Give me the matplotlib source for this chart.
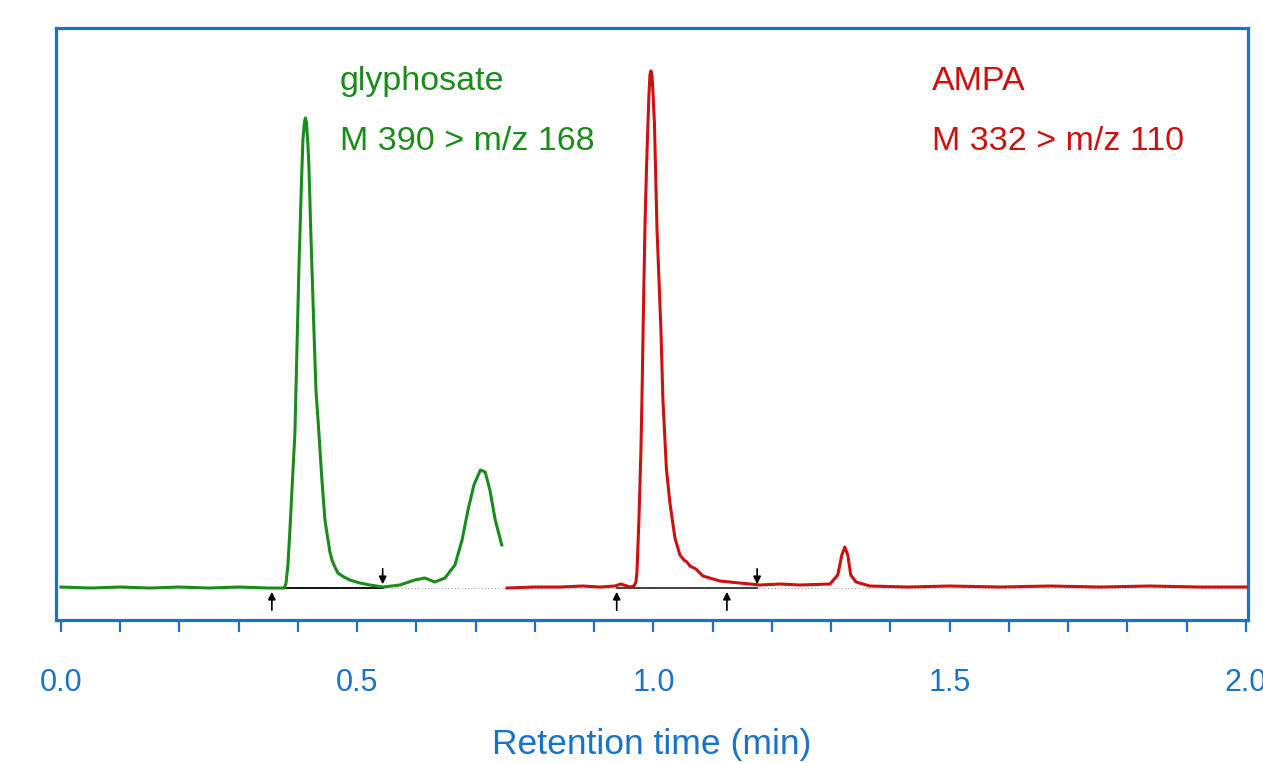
import matplotlib.pyplot as plt
from matplotlib.ticker import MultipleLocator

plt.rcParams['font.family'] = ['Liberation Sans', 'DejaVu Sans']

blue = '#1a73c9'
green = '#1b8c1b'
red = '#cc1111'

# glyphosate trace (time in min, intensity)
glyph_t = [0.0, 0.05, 0.1, 0.15, 0.2, 0.25, 0.3, 0.35, 0.37, 0.3764, 0.3797, 0.3831,
           0.3865, 0.3899, 0.3949, 0.3983, 0.4017, 0.4051, 0.4068, 0.4084, 0.4110,
           0.4127, 0.4143, 0.4169, 0.4186, 0.4211, 0.4236, 0.4270, 0.4304, 0.4354,
           0.4405, 0.4456, 0.4489, 0.4540, 0.4574, 0.4624, 0.4675, 0.4776, 0.4878,
           0.5046, 0.5215, 0.5435, 0.572, 0.597, 0.614, 0.631, 0.648, 0.665,
           0.677, 0.687, 0.697, 0.708, 0.716, 0.724, 0.733, 0.744]
glyph_y = [1, 0, 1, 0, 1, 0, 1, 0, 0, 0, 4, 23,
           58, 98, 155, 238, 321, 388, 421, 448, 466,
           470, 466, 443, 421, 368, 321, 258, 198, 155,
           108, 68, 55, 36, 28, 21, 15, 11, 8,
           5, 3, 1, 3, 8, 10, 6, 10, 23,
           48, 78, 103, 118, 116, 98, 68, 43]

# AMPA trace
ampa_t = [0.753, 0.80, 0.842, 0.88, 0.910, 0.935, 0.945, 0.9603, 0.9671, 0.9705, 0.9722,
          0.9755, 0.9789, 0.9806, 0.9831, 0.9857, 0.9882, 0.9907, 0.9924, 0.9941,
          0.9958, 0.9975, 0.9992, 1.0017, 1.0059, 1.0127, 1.0160, 1.0219, 1.0278,
          1.0363, 1.0447, 1.0515, 1.0565, 1.0616, 1.0717, 1.0835, 1.1122, 1.1460,
          1.1797, 1.214, 1.247, 1.298, 1.311, 1.318, 1.323, 1.328, 1.333, 1.342,
          1.365, 1.43, 1.500, 1.585, 1.669, 1.754, 1.838, 1.922, 2.0]
ampa_y = [0, 1, 1, 2, 1, 2, 4, 1, 2, 6, 16,
          68, 138, 188, 278, 361, 418, 464, 493, 513,
          517, 513, 496, 464, 361, 257, 188, 119, 85,
          50, 33, 28, 26, 22, 19, 12, 7, 5,
          3, 4, 3, 4, 13, 33, 41, 33, 13, 6,
          2, 1, 2, 1, 2, 1, 2, 1, 1]

# integration baselines (start, end) and peak markers
glyph_base = (0.356, 0.543)
ampa_base = (0.938, 1.175)
up_marks = [0.356, 0.938, 1.124]
down_marks = [0.543, 1.175]

fig = plt.figure(figsize=(12.63, 7.63), dpi=100)
ax = fig.add_axes([0.0443, 0.1874, 0.9438, 0.7759])

ax.plot([0, 2.0], [0, 0], color='#aaaaaa', lw=0.8, ls=(0, (1, 2)), zorder=1)
ax.plot(glyph_base, [0, 0], color='black', lw=1.3, zorder=2)
ax.plot(ampa_base, [0, 0], color='#333333', lw=1.3, zorder=2)
ax.plot(glyph_t, glyph_y, color=green, lw=2.2, zorder=3)
ax.plot(ampa_t, ampa_y, color=red, lw=2.2, zorder=3)

for t in up_marks:
    ax.annotate('', xy=(t, -1), xytext=(t, -25),
                arrowprops=dict(arrowstyle='-|>', color='black', lw=1.2, mutation_scale=11))
for t in down_marks:
    ax.annotate('', xy=(t, 1), xytext=(t, 22),
                arrowprops=dict(arrowstyle='-|>', color='black', lw=1.2, mutation_scale=11))

ax.text(0.471, 507, 'glyphosate', color=green, fontsize=24.5, va='center')
ax.text(0.471, 447, 'M 390 > m/z 168', color=green, fontsize=24.5, va='center')
ax.text(1.470, 507, 'AMPA', color=red, fontsize=24.5, va='center')
ax.text(1.470, 447, 'M 332 > m/z 110', color=red, fontsize=24.5, va='center')

ax.set_xlim(-0.0084, 2.0034)
ax.set_ylim(-32, 560)
ax.set_yticks([])
ax.xaxis.set_minor_locator(MultipleLocator(0.1))
ax.set_xticks([0.0, 0.5, 1.0, 1.5, 2.0])
ax.set_xticklabels(['0.0', '0.5', '1.0', '1.5', '2.0'])
ax.tick_params(axis='x', which='both', direction='out', length=8.5, width=1.6,
               color=blue, labelcolor=blue, labelsize=22, pad=26)
for s in ax.spines.values():
    s.set_color(blue)
    s.set_linewidth(2.3)
ax.set_xlabel('Retention time (min)', color=blue, fontsize=25.5, labelpad=22)

fig.savefig('out.png', dpi=100)
